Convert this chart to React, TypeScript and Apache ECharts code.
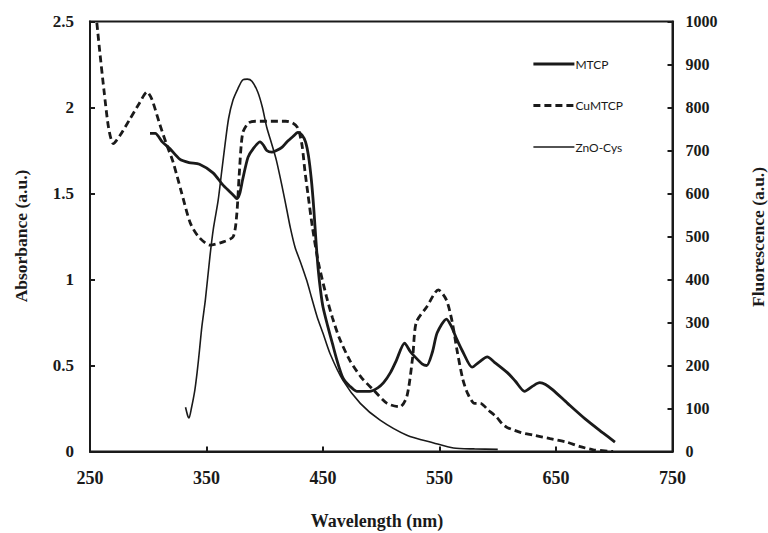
import React, { useEffect, useRef } from "react";
import * as echarts from "echarts";

const xTicks = [250, 350, 450, 550, 650, 750];
const absTicks = [0, 0.5, 1, 1.5, 2, 2.5];
const fluoTicks = [0, 100, 200, 300, 400, 500, 600, 700, 800, 900, 1000];

const mtcpNm = [301.5, 306, 312, 318.7, 327, 335, 344, 355.6, 364, 370, 374.5, 376, 378.5, 381, 385.6, 390, 396, 399, 401.7, 406, 410, 415, 419, 424, 428.5, 432, 435, 437.5, 440, 442, 444, 446, 448, 450, 454, 458, 462, 467, 473, 479, 490, 497, 502, 508, 513, 520, 525, 529, 535, 539, 544, 548, 556, 560, 565, 570, 578, 584, 591, 597, 608, 615, 623, 630, 636, 641, 647, 660, 675, 690, 700.6];
const mtcpAbs = [1.85, 1.85, 1.8, 1.76, 1.7, 1.68, 1.67, 1.62, 1.55, 1.51, 1.48, 1.47, 1.5, 1.58, 1.71, 1.76, 1.8, 1.78, 1.75, 1.74, 1.75, 1.77, 1.8, 1.83, 1.855, 1.84, 1.8, 1.72, 1.58, 1.42, 1.22, 1.05, 0.93, 0.84, 0.73, 0.63, 0.53, 0.43, 0.38, 0.35, 0.35, 0.37, 0.4, 0.46, 0.53, 0.63, 0.58, 0.55, 0.51, 0.5, 0.58, 0.69, 0.77, 0.73, 0.65, 0.58, 0.49, 0.52, 0.55, 0.52, 0.46, 0.41, 0.35, 0.38, 0.4, 0.39, 0.36, 0.28, 0.19, 0.11, 0.055];

const cuNm = [254, 258, 262, 266, 270, 276, 284, 292, 299, 303, 310, 316, 321, 328, 336, 343, 353, 365, 373, 376, 378, 381, 386, 392, 405, 418, 424, 428.5, 432, 434.5, 437, 441, 446, 453, 458, 464, 473, 483, 493, 505, 516, 522, 527, 530, 539, 549, 556, 561, 565, 570, 574, 580, 585, 592, 599, 604, 608, 620, 630, 645, 659, 670, 682, 699];
const cuAbs = [2.62, 2.35, 2.1, 1.88, 1.79, 1.84, 1.93, 2.02, 2.09, 2.05, 1.9, 1.78, 1.69, 1.52, 1.33, 1.25, 1.2, 1.22, 1.25, 1.38, 1.6, 1.85, 1.91, 1.92, 1.92, 1.92, 1.91, 1.88, 1.78, 1.63, 1.5, 1.3, 1.1, 0.9, 0.78, 0.66, 0.53, 0.43, 0.36, 0.28, 0.26, 0.32, 0.55, 0.75, 0.84, 0.94, 0.88, 0.75, 0.59, 0.42, 0.34, 0.28, 0.28, 0.24, 0.2, 0.16, 0.14, 0.11, 0.096, 0.075, 0.055, 0.03, 0.01, 0];

const znoNm = [332, 334, 335, 337, 340, 342, 344, 346, 349, 353, 356, 360, 363, 366, 369, 372.7, 377, 381, 385, 389, 394, 398, 401.7, 406, 410, 415, 419, 422, 426, 431, 436, 440, 445, 450, 456, 467, 482, 499, 522, 545, 562, 580, 600];
const znoFluo = [103, 82, 78, 100, 143, 185, 236, 290, 352, 455, 520, 584, 650, 716, 775, 817, 844, 864, 866, 861, 836, 800, 754, 715, 677, 615, 561, 520, 475, 438, 398, 360, 313, 275, 228, 166, 112, 73, 38, 20, 8, 6, 5];

const zip = (a: number[], b: number[]) => a.map((v, i) => [v, b[i]]);

const serif = "'Liberation Serif', 'Times New Roman', serif";
const ink = "#1a1a1a";

export default function App() {
  const ref = useRef<HTMLDivElement>(null);
  useEffect(() => {
    if (!ref.current) return;
    const chart = echarts.init(ref.current, undefined, { renderer: "svg" });
    chart.setOption({
      animation: false,
      backgroundColor: "#fff",
      grid: {
        left: 90,
        right: 95.5,
        top: 21.5,
        bottom: 81.5,
        show: true,
        borderColor: ink,
        borderWidth: 2,
      },
      legend: {
        orient: "vertical",
        left: 527,
        top: 53,
        itemWidth: 41,
        itemHeight: 14,
        itemGap: 29.5,
        itemStyle: { color: "rgba(0,0,0,0)", borderColor: "rgba(0,0,0,0)", borderWidth: 0, opacity: 0 },
        textStyle: { fontFamily: "Lato, 'Open Sans', sans-serif", fontSize: 12, color: ink, padding: [0, 0, 0, -4] },
        data: [
          { name: "MTCP", lineStyle: { width: 2.8, color: ink, type: "solid" } },
          { name: "CuMTCP", lineStyle: { width: 2.8, color: ink, type: [7, 4] } },
          { name: "ZnO-Cys", lineStyle: { width: 1.5, color: ink, type: "solid" } },
        ],
      },
      xAxis: {
        type: "value",
        min: xTicks[0],
        max: xTicks[xTicks.length - 1],
        interval: 100,
        axisLine: { lineStyle: { color: ink, width: 2 } },
        axisTick: { inside: true, length: 5, lineStyle: { color: ink, width: 2 } },
        splitLine: { show: false },
        axisLabel: {
          margin: 17,
          fontFamily: serif,
          fontWeight: "bold",
          fontSize: 18,
          color: ink,
          formatter: (v: number) => (xTicks.includes(v) ? String(v) : ""),
        },
      },
      yAxis: [
        {
          type: "value",
          min: 0,
          max: absTicks[absTicks.length - 1],
          interval: 0.5,
          axisLine: { show: true, lineStyle: { color: ink, width: 2 } },
          axisTick: { show: true, inside: true, length: 5, lineStyle: { color: ink, width: 2 } },
          splitLine: { show: false },
          axisLabel: {
            margin: 16,
            fontFamily: serif,
            fontWeight: "bold",
            fontSize: 17,
            color: ink,
            formatter: (v: number) => String(v),
          },
        },
        {
          type: "value",
          position: "right",
          min: 0,
          max: fluoTicks[fluoTicks.length - 1],
          interval: 100,
          axisLine: { show: true, lineStyle: { color: ink, width: 2 } },
          axisTick: { show: true, inside: true, length: 5, lineStyle: { color: ink, width: 2 } },
          splitLine: { show: false },
          axisLabel: {
            margin: 13,
            fontFamily: serif,
            fontWeight: "bold",
            fontSize: 16,
            color: ink,
            formatter: (v: number) => String(v),
          },
        },
      ],
      graphic: [
        {
          type: "text",
          x: 21,
          y: 236,
          rotation: Math.PI / 2,
          style: {
            text: "Absorbance (a.u.)",
            fontFamily: serif,
            fontWeight: "bold",
            fontSize: 17.5,
            fill: ink,
            align: "center",
            verticalAlign: "middle",
          },
        },
        {
          type: "text",
          x: 758,
          y: 237,
          rotation: Math.PI / 2,
          style: {
            text: "Fluorescence (a.u.)",
            fontFamily: serif,
            fontWeight: "bold",
            fontSize: 17.5,
            fill: ink,
            align: "center",
            verticalAlign: "middle",
          },
        },
        {
          type: "text",
          x: 377,
          y: 521,
          style: {
            text: "Wavelength (nm)",
            fontFamily: serif,
            fontWeight: "bold",
            fontSize: 18,
            fill: ink,
            align: "center",
            verticalAlign: "middle",
          },
        },
      ],
      series: [
        {
          name: "MTCP",
          type: "line",
          yAxisIndex: 0,
          data: zip(mtcpNm, mtcpAbs),
          symbol: "none",
          smooth: 0.25,
          lineStyle: { color: ink, width: 2.8 },
          itemStyle: { color: ink },
        },
        {
          name: "CuMTCP",
          type: "line",
          yAxisIndex: 0,
          data: zip(cuNm, cuAbs),
          symbol: "none",
          smooth: 0.25,
          lineStyle: { color: ink, width: 2.8, type: [7, 4] },
          itemStyle: { color: ink },
        },
        {
          name: "ZnO-Cys",
          type: "line",
          yAxisIndex: 1,
          data: zip(znoNm, znoFluo),
          symbol: "none",
          smooth: 0.25,
          lineStyle: { color: ink, width: 1.6 },
          itemStyle: { color: ink },
        },
      ],
    });
    return () => chart.dispose();
  }, []);
  return (
    <div
      ref={ref}
      style={{ position: "absolute", left: 0, top: 0, width: 768, height: 533, background: "#fff" }}
    />
  );
}
